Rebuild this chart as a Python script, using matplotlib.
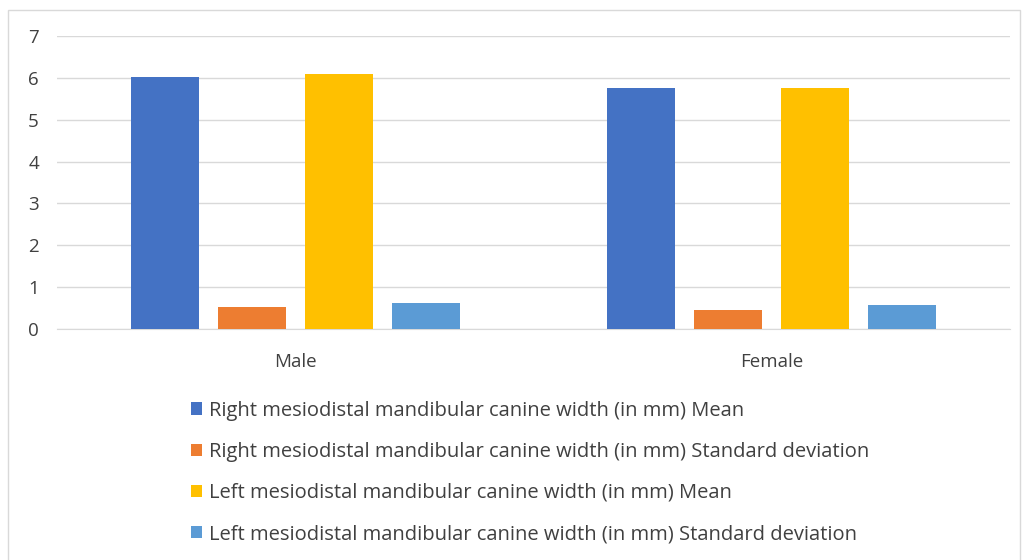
import numpy as np
import matplotlib.pyplot as plt
from matplotlib.patches import Rectangle

# Data
groups = ['Male', 'Female']
series = [
    'Right mesiodistal mandibular canine width (in mm) Mean',
    'Right mesiodistal mandibular canine width (in mm) Standard deviation',
    'Left mesiodistal mandibular canine width (in mm) Mean',
    'Left mesiodistal mandibular canine width (in mm) Standard deviation',
]
right_mean = [6.03, 5.75]
right_sd = [0.53, 0.46]
left_mean = [6.10, 5.75]
left_sd = [0.62, 0.58]
colors = ['#4472C4', '#ED7D31', '#FFC000', '#5B9BD5']

plt.rcParams['font.family'] = ['Open Sans', 'DejaVu Sans']

fig = plt.figure(figsize=(10.25, 5.6), dpi=100)
ax = fig.add_axes([0.0556, 0.4125, 0.9294, 0.5232])

x = np.arange(len(groups))
width = 0.143
step = 0.1826
values = [right_mean, right_sd, left_mean, left_sd]
for i, (vals, name, c) in enumerate(zip(values, series, colors)):
    ax.bar(x + (i - 1.5) * step, vals, width, color=c, label=name, zorder=3)

ax.set_xlim(-0.5, 1.5)
ax.set_ylim(0, 7)
ax.set_yticks(range(0, 8))
ax.set_xticks(x)
ax.set_xticklabels(groups)
ax.grid(axis='y', color='#d9d9d9', linewidth=1, zorder=0)
for s in ['top', 'right', 'left']:
    ax.spines[s].set_visible(False)
ax.spines['bottom'].set_color('#d9d9d9')
ax.tick_params(axis='both', length=0, labelsize=13.5, colors='#404040')
ax.tick_params(axis='x', pad=17)
ax.tick_params(axis='y', pad=13)

fig.legend(loc='upper left', bbox_to_anchor=(0.169, 0.317), frameon=False,
           fontsize=14.5, handlelength=0.55, handleheight=0.55, handletextpad=0.35,
           labelspacing=1.05, labelcolor='#404040')

# chart border
fig.patches.append(Rectangle((8 / 1025, -0.01), 1012 / 1025, 1 - 10 / 560 + 0.01,
                             transform=fig.transFigure, fill=False,
                             edgecolor='#d9d9d9', linewidth=1))

plt.savefig('out.png')
